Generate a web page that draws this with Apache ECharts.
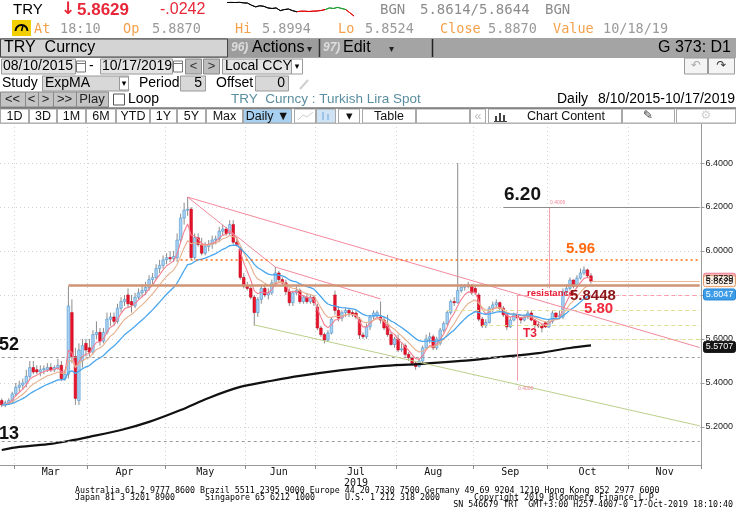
<!DOCTYPE html>
<html><head><meta charset="utf-8">
<script src="https://cdn.jsdelivr.net/npm/echarts@6/dist/echarts.min.js"></script>
<style>html,body{margin:0;padding:0;background:#fff}#c{width:736px;height:530px}</style>
</head><body><div id="c"></div>
<script>
// ---------------- DATA ----------------
const startDate = '2019-02-25';
const endDate = '2019-11-29';
const monthLabels = ['Mar','Apr','May','Jun','Jul','Aug','Sep','Oct','Nov'];
const yTicks = [5.2, 5.4, 5.6, 5.8, 6.0, 6.2, 6.4];

const open = [5.32,5.30,5.31,5.32,5.35,5.38,5.39,5.40,5.43,5.47,5.46,5.45,5.46,5.46,5.47,5.46,5.47,5.48,5.42,5.44,
5.72,5.52,5.32,5.50,5.58,5.56,5.54,5.62,5.63,5.59,5.63,5.69,5.70,5.68,5.74,5.77,5.80,5.77,5.75,5.79,
5.81,5.82,5.835,5.87,5.88,5.92,5.935,5.96,5.97,5.965,5.97,6.05,6.15,6.186,6.19,5.97,6.06,6.03,5.99,6.02,
6.03,6.05,6.055,6.09,6.10,6.08,6.12,6.04,6.01,5.88,5.84,5.83,5.79,5.72,5.78,5.83,5.80,5.81,5.855,5.90,
5.87,5.855,5.815,5.765,5.81,5.82,5.77,5.79,5.77,5.79,5.745,5.65,5.62,5.595,5.627,5.80,5.73,5.695,5.72,5.73,
5.72,5.718,5.69,5.618,5.61,5.655,5.70,5.705,5.70,5.686,5.66,5.62,5.575,5.60,5.55,5.57,5.53,5.515,5.49,5.475,
5.50,5.56,5.60,5.61,5.56,5.58,5.64,5.67,5.72,5.77,5.765,5.82,5.835,5.845,5.845,5.83,5.80,5.69,5.66,5.675,
5.74,5.755,5.765,5.74,5.71,5.655,5.686,5.71,5.696,5.686,5.70,5.718,5.686,5.664,5.66,5.674,5.655,5.68,5.718,5.70,
5.70,5.814,5.83,5.868,5.84,5.877,5.90,5.914,5.887];
const high = [5.33,5.32,5.33,5.36,5.40,5.41,5.42,5.46,5.50,5.50,5.48,5.48,5.48,5.49,5.49,5.48,5.51,5.50,5.46,5.84,
5.78,5.56,5.58,5.60,5.60,5.60,5.64,5.68,5.65,5.65,5.72,5.72,5.72,5.76,5.79,5.80,5.83,5.80,5.81,5.83,
5.85,5.86,5.89,5.90,5.94,5.96,5.98,5.99,6.00,6.00,6.08,6.17,6.22,6.245,6.20,6.08,6.08,6.06,6.04,6.05,
6.07,6.07,6.11,6.12,6.11,6.14,6.14,6.06,6.02,5.90,5.86,5.84,5.80,5.79,5.84,5.85,5.83,5.87,5.927,5.91,
5.88,5.87,5.83,5.82,5.84,5.83,5.80,5.81,5.80,5.80,5.76,5.66,5.63,5.64,5.70,5.82,5.75,5.73,5.74,5.74,
5.73,5.73,5.70,5.63,5.67,5.71,5.73,5.73,5.77,5.70,5.71,5.63,5.61,5.62,5.58,5.58,5.54,5.52,5.50,5.51,
5.57,5.62,5.63,5.62,5.61,5.65,5.68,5.73,5.78,5.79,6.40,5.85,5.85,5.86,5.85,5.84,5.81,5.70,5.69,5.75,
5.77,5.78,5.77,5.75,5.72,5.70,5.72,5.73,5.70,5.71,5.73,5.73,5.69,5.68,5.67,5.68,5.69,5.73,5.72,5.73,
5.83,5.85,5.88,5.87,5.89,5.92,5.93,5.92,5.8994];
const low = [5.29,5.29,5.30,5.31,5.34,5.36,5.37,5.38,5.42,5.44,5.44,5.43,5.44,5.45,5.45,5.45,5.46,5.41,5.41,5.42,
5.49,5.30,5.30,5.47,5.52,5.52,5.53,5.60,5.57,5.58,5.62,5.66,5.66,5.67,5.72,5.75,5.74,5.72,5.74,5.78,
5.79,5.80,5.82,5.85,5.87,5.90,5.92,5.94,5.95,5.95,5.95,6.04,6.12,6.16,5.96,5.96,6.02,5.98,5.98,6.00,
6.01,6.03,6.04,6.07,6.07,6.07,6.03,6.02,5.87,5.83,5.82,5.78,5.66,5.70,5.76,5.79,5.78,5.80,5.84,5.86,
5.84,5.80,5.75,5.75,5.80,5.76,5.76,5.76,5.76,5.75,5.64,5.61,5.58,5.59,5.62,5.71,5.68,5.68,5.70,5.70,
5.70,5.69,5.60,5.60,5.60,5.64,5.69,5.70,5.67,5.64,5.61,5.57,5.56,5.54,5.54,5.52,5.50,5.48,5.46,5.47,
5.49,5.55,5.58,5.55,5.55,5.57,5.63,5.66,5.71,5.75,5.76,5.81,5.82,5.83,5.80,5.80,5.68,5.65,5.65,5.67,
5.72,5.74,5.73,5.70,5.64,5.65,5.68,5.69,5.67,5.68,5.69,5.68,5.65,5.65,5.63,5.65,5.65,5.67,5.69,5.69,
5.69,5.80,5.82,5.83,5.83,5.87,5.89,5.88,5.8524];
const close = [5.30,5.31,5.32,5.35,5.38,5.39,5.40,5.43,5.47,5.45,5.45,5.46,5.465,5.47,5.46,5.47,5.48,5.42,5.44,5.75,
5.52,5.33,5.55,5.57,5.55,5.54,5.62,5.63,5.59,5.63,5.69,5.70,5.68,5.74,5.77,5.78,5.76,5.755,5.79,5.81,
5.82,5.835,5.87,5.88,5.92,5.935,5.96,5.97,5.965,5.975,6.05,6.15,6.186,6.19,5.97,6.06,6.03,5.99,6.02,6.03,
6.05,6.055,6.09,6.10,6.08,6.12,6.04,6.03,5.88,5.84,5.83,5.79,5.72,5.78,5.83,5.80,5.81,5.855,5.90,5.87,
5.855,5.815,5.765,5.81,5.82,5.77,5.79,5.77,5.79,5.765,5.65,5.62,5.595,5.627,5.69,5.73,5.695,5.72,5.73,5.718,
5.71,5.70,5.618,5.61,5.655,5.70,5.718,5.72,5.686,5.65,5.62,5.575,5.60,5.55,5.555,5.53,5.515,5.49,5.475,5.50,
5.56,5.60,5.61,5.56,5.60,5.64,5.67,5.72,5.77,5.765,5.82,5.835,5.845,5.84,5.81,5.81,5.69,5.66,5.675,5.74,
5.755,5.765,5.74,5.71,5.655,5.686,5.71,5.696,5.686,5.70,5.718,5.686,5.664,5.66,5.65,5.655,5.68,5.718,5.70,5.705,
5.814,5.83,5.868,5.84,5.877,5.90,5.914,5.887,5.8629];

// 200-day ExpMA (black) at a few dates
const ema200Dates = ['2019-02-25','2019-03-04','2019-03-15','2019-03-22','2019-04-01','2019-04-12','2019-04-24','2019-05-07','2019-05-17','2019-05-30','2019-06-12','2019-06-24','2019-07-10','2019-07-25','2019-08-09','2019-08-27','2019-09-11','2019-09-26','2019-10-09','2019-10-17'];
const ema200Vals  = [5.095,5.109,5.123,5.136,5.155,5.186,5.223,5.277,5.332,5.382,5.41,5.432,5.458,5.477,5.486,5.50,5.518,5.536,5.559,5.5707];

// header intraday sparkline
const sparkline = [5.8982,5.8989,5.8982,5.8993,5.8971,5.8964,5.8892,5.8838,5.8874,5.8856,5.8802,5.8784,5.8802,5.8712,5.8748,5.8766,5.8712,5.8676,5.8694,5.8694,5.8683,5.8694,5.8701,5.8719,5.8748,5.8802,5.8784,5.8820,5.8784,5.8748,5.8640,5.8532];

// right-axis value badges
const lastClose = 5.8629, lastEma20 = 5.8047, lastEma200 = 5.5707;

// ---------------- BUILD ----------------
function weekdays(a,b){const out=[];const d=new Date(a+'T00:00:00Z');const e=new Date(b+'T00:00:00Z');
  while(d<=e){const w=d.getUTCDay();if(w!==0&&w!==6)out.push(d.toISOString().slice(0,10));d.setUTCDate(d.getUTCDate()+1);}return out;}
const categories = weekdays(startDate,endDate);
const monthOf = s => +s.slice(5,7);
const monthStart = new Set();
const spans = {};
categories.forEach((c,i)=>{const m=monthOf(c);
  if(i>0 && m!==monthOf(categories[i-1])) monthStart.add(i);
  if(!spans[m]) spans[m]=[i,i]; else spans[m][1]=i;});
const labelIdx = new Set();
Object.keys(spans).forEach(m=>{ if(+m>=3){const s=spans[m]; labelIdx.add(Math.floor((s[0]+s[1])/2));}});

function ema(arr,n){const k=2/(n+1);let p=null;return arr.map(v=>{p=p===null?v:p+k*(v-p);return +p.toFixed(4);});}
const ema5 = ema(close,5), ema10 = ema(close,10), ema20 = ema(close,20);
const cat = i => categories[i];

const candleData = close.map((c,i)=>[i, open[i], c, low[i], high[i]]);

const mlPink = {color:'#f48a9c', width:1, type:'solid'};
const markLines = [
  [{coord:[cat(0),5.518]},{coord:[cat(199),5.518]}, {color:'#9a9a9a',width:1,type:[3,3]}],
  [{coord:[cat(0),5.136]},{coord:[cat(199),5.136]}, {color:'#9a9a9a',width:1,type:[3,3]}],
  [{coord:[cat(127),5.732]},{coord:[cat(199),5.732]}, {color:'#dede94',width:1,type:[4,3]}],
  [{coord:[cat(137),5.664]},{coord:[cat(199),5.664]}, {color:'#dede94',width:1,type:[4,3]}],
  [{coord:[cat(138),5.60]},{coord:[cat(199),5.60]}, {color:'#dede94',width:1,type:[4,3]}],
  [{coord:[cat(72),5.664]},{coord:[cat(199),5.205]}, {color:'#bccf8c',width:1,type:'solid'}],
  [{coord:[cat(53),6.245]},{coord:[cat(199),5.561]}, mlPink],
  [{coord:[cat(53),6.245]},{coord:[cat(78),5.927]}, mlPink],
  [{coord:[cat(78),5.927]},{coord:[cat(108),5.782]}, mlPink],
  [{coord:[cat(147),5.80]},{coord:[cat(199),5.80]}, {color:'#ff9aaa',width:1,type:[4,3]}],
  [{coord:[cat(156),6.20]},{coord:[cat(156),5.83]}, {color:'#f4a0ae',width:1,type:'solid'}],
  [{coord:[cat(147),5.80]},{coord:[cat(147),5.41]}, {color:'#f4a0ae',width:1,type:'solid'}],
  [{coord:[cat(143),6.20]},{coord:[cat(199),6.20]}, {color:'#8c8c8c',width:1,type:'solid'}],
  [{coord:[cat(51),5.96]},{coord:[cat(199),5.96]}, {color:'#ff6a10',width:1.6,type:[2,3]}],
  [{coord:[cat(19),5.8448]},{coord:[cat(199),5.8448]}, {color:'#cf9474',width:2.6,type:'solid'}],
  [{coord:[cat(168),lastClose]},{coord:[cat(199),lastClose]}, {color:'#ecb894',width:1,type:'solid'}]
].map(([a,b,ls])=>[Object.assign({lineStyle:ls},a), b]);

// ---------------- GRAPHIC (terminal header / annotations) ----------------
const G = [];
const SANS='"Liberation Sans", Arial, sans-serif', MONO='"DejaVu Sans Mono", monospace';
function T(x,y,text,font,fill,align,z){G.push({type:'text',z:z||100,silent:true,style:{x,y,text,font,fill,textAlign:align||'left',align:align||'left',textVerticalAlign:'middle',verticalAlign:'middle'}});}
function R(x,y,w,h,fill,stroke,lw,z){G.push({type:'rect',z:z||90,silent:true,shape:{x,y,width:w,height:h},style:{fill,stroke:stroke||null,lineWidth:lw||1}});}
function L(x1,y1,x2,y2,stroke,lw,z){G.push({type:'line',z:z||95,silent:true,shape:{x1,y1,x2,y2},style:{stroke,lineWidth:lw||1}});}

// row 1
T(13,10,'TRY','15px '+SANS,'#000');
T(61,10,'\u2193','bold 17px "DejaVu Sans"','#e8283a');
T(77,10,'5.8629','bold 17px '+SANS,'#e8283a');
T(160,10,'-.0242','16px '+SANS,'#e8283a');
T(380,10,'BGN','14px '+MONO,'#8c8c8c');
T(420,10,'5.8614/5.8644','14px '+MONO,'#8c8c8c');
T(545,10,'BGN','14px '+MONO,'#8c8c8c');
// row 2
R(12,20,19,16,'#f2cf00');
G.push({type:'arc',z:96,silent:true,shape:{cx:21.5,cy:31,r:6,startAngle:Math.PI,endAngle:2*Math.PI},style:{stroke:'#000',lineWidth:2,fill:null}});
L(21.5,31,23,25.5,'#000',1.5,97);
const r2=[['At',34,'o'],['18:10',60,'g'],['Op',123,'o'],['5.8870',152,'g'],['Hi',235,'o'],['5.8994',262,'g'],['Lo',338,'o'],['5.8524',365,'g'],['Close',440,'o'],['5.8870',488,'g'],['Value',553,'o'],['10/18/19',603,'g']];
r2.forEach(([t,x,c])=>T(x,29,t,'13.5px '+MONO,c==='o'?'#f5a04a':'#9a9a9a'));
// row 3
R(0,38,736,20,'#a4a4a4');
R(0.5,39,227,18,'#d4d4d4','#444');
T(4,48,'TRY  Curncy','16px '+SANS,'#000');
R(228,39,91,18,'#9c9c9c');
T(231,48,'96)','italic bold 12px '+SANS,'#dcdcdc');
T(252,48,'Actions','16px '+SANS,'#000');
T(307,49,'\u25BE','10px "DejaVu Sans"','#222');
L(319.5,39,319.5,57,'#333',1.5);
T(323,48,'97)','italic bold 12px '+SANS,'#dcdcdc');
T(343,48,'Edit','16px '+SANS,'#000');
T(389,49,'\u25BE','10px "DejaVu Sans"','#222');
L(432.5,39,432.5,57,'#222',1.5);
T(731,48,'G 373: D1','16px '+SANS,'#000','right');
// row 4
R(1.5,59,74,15,'#e4e4e4','#9a9a9a'); T(3,66.5,'08/10/2015','14px '+SANS,'#000');
R(76.5,61,9,11,'#fff','#777'); L(76.5,63.5,85.5,63.5,'#777');
T(89,66,'-','14px '+SANS,'#000');
R(100.5,59,72,15,'#e4e4e4','#9a9a9a'); T(102,66.5,'10/17/2019','14px '+SANS,'#000');
R(173.5,61,9,11,'#fff','#777'); L(173.5,63.5,182.5,63.5,'#777');
R(185.5,59,16,15,'#bdbdbd','#888'); T(193.5,66.5,'<','13px '+SANS,'#333','center');
R(203.5,59,16,15,'#bdbdbd','#888'); T(211.5,66.5,'>','13px '+SANS,'#333','center');
R(222.5,59,69,15,'#e4e4e4','#9a9a9a'); T(225,66.5,'Local CCY','14px '+SANS,'#000');
R(291.5,59,11,15,'#fff','#9a9a9a'); T(297,67,'\u25BE','9px "DejaVu Sans"','#000','center');
R(684.5,58,23,16,'#f4f4f4','#999'); T(696,66,'\u21B6','12px "DejaVu Sans"','#aaa','center');
R(708.5,58,26,16,'#f4f4f4','#999'); T(721.5,66,'\u21B7','12px "DejaVu Sans"','#333','center');
// row 5
T(2,83,'Study','14px '+SANS,'#000');
R(42.5,76,86,15,'#d8d8d8','#9a9a9a'); T(45,83.5,'ExpMA','14px '+SANS,'#000');
R(119.5,77,9,13,'#fff','#999'); T(124,84,'\u25BE','9px "DejaVu Sans"','#000','center');
T(139,83,'Period','14px '+SANS,'#000');
R(180.5,76,25,15,'#d8d8d8','#9a9a9a'); T(202,83.5,'5','14px '+SANS,'#000','right');
T(216,83,'Offset','14px '+SANS,'#000');
R(255.5,76,33,15,'#d8d8d8','#9a9a9a'); T(285,83.5,'0','14px '+SANS,'#000','right');
L(300,89,308,80,'#cfcfcf',2);
// row 6
[[0,25,'<<'],[25,38,'<'],[38,53,'>'],[53,76,'>>'],[76,108,'Play']].forEach(([a,b,t])=>{R(a+0.5,92,b-a,15,'#c4c4c4','#888');T((a+b)/2,99.5,t,'13px '+SANS,'#222','center');});
R(113.5,94,11,11,'#fff','#555');
T(128,99.5,'Loop','14px '+SANS,'#000');
T(231,99.5,'TRY  Curncy : Turkish Lira Spot','13.5px '+SANS,'#5a8ea0');
T(557,99.5,'Daily','14px '+SANS,'#000');
T(598,99.5,'8/10/2015-10/17/2019','14px '+SANS,'#000');
// row 7
L(0,108,736,108,'#333',1);
[[0,29,'1D'],[29,57,'3D'],[57,86,'1M'],[86,116,'6M'],[116,150,'YTD'],[150,177,'1Y'],[177,206,'5Y'],[206,243,'Max'],[243,292,'Daily \u25BC'],[294,316,''],[316,336,''],[338,360,'\u25BE'],[362,416,'Table'],[416,470,''],[470,486,'\u00AB'],[488,622,'Chart Content'],[622,675,''],[676,736,'']].forEach(([a,b,t])=>{
  const fill = t.indexOf('Daily')===0 ? '#a8d0f0' : (a===316 ? '#cfe3f5' : '#fff');
  R(a+0.5,109,b-a-1,14,fill,'#a8a8a8');
  if(t) T(t==='Chart Content'?566:(a+b)/2,116.5,t,'12.5px '+SANS,t==='\u00AB'?'#bbb':'#111','center');
});
// small icons in toolbar
G.push({type:'polyline',z:100,silent:true,shape:{points:[[298,120],[303,115],[307,117],[313,112]]},style:{stroke:'#cfcfcf',lineWidth:1,fill:null}});
R(322,112,2,8,'#9cc4e6'); R(327,114,2,6,'#9cc4e6');
R(495,116,2,5,'#444',null,1,101); R(499,113,2,8,'#444',null,1,101); R(503,115,2,6,'#444',null,1,101); L(494,121.5,507,121.5,'#444',1,101);
T(648,116,'\u270E','12px "DejaVu Sans"','#333','center');
T(706,116,'\u2699','12px "DejaVu Sans"','#cfcfcf','center');
L(0,123.5,736,123.5,'#b4b4b4',1);

// chart annotations
T(504,195,'6.20','bold 19px '+SANS,'#141414');
T(566,249,'5.96','bold 15px '+SANS,'#ff6a10');
T(527,293,'resistance','bold 9.5px '+SANS,'#e8203a');
T(570,295.5,'5.8448','bold 15px '+SANS,'#8b1818');
T(584,309,'5.80','bold 15px '+SANS,'#f02a40');
T(523,334,'T3','bold 12px '+SANS,'#e8203a');
T(550,203,'0.4006','5px '+SANS,'#f08a9a');
T(518,389,'0.4006','5px '+SANS,'#f08a9a');
T(-1,345,'52','bold 18px '+SANS,'#111');
T(-1,434,'13','bold 18px '+SANS,'#111');

// footer
const F='8.3px '+MONO;
T(75,491,'Australia 61 2 9777 8600 Brazil 5511 2395 9000 Europe 44 20 7330 7500 Germany 49 69 9204 1210 Hong Kong 852 2977 6000',F,'#000');
T(75,497.5,'Japan 81 3 3201 8900',F,'#000');
T(205,497.5,'Singapore 65 6212 1000',F,'#000');
T(345,497.5,'U.S. 1 212 318 2000',F,'#000');
T(474,497.5,'Copyright 2019 Bloomberg Finance L.P.',F,'#000');
T(733,504.5,'SN 546679 TRT  GMT+3:00 H257-4007-0 17-Oct-2019 18:10:40',F,'#000','right');

// ---------------- CHART ----------------
const chart = echarts.init(document.getElementById('c'));
const option = {
  animation:false,
  backgroundColor:'#ffffff',
  grid:[{left:0,right:34,top:123,bottom:65},{left:227,top:2,width:127,height:15}],
  xAxis:[{
    type:'category', data:categories, boundaryGap:true,
    axisLine:{show:true,lineStyle:{color:'#9a9a9a'}},
    axisTick:{show:true,length:4,interval:(i)=>monthStart.has(i),lineStyle:{color:'#8a8a8a'}},
    axisLabel:{interval:(i)=>labelIdx.has(i), margin:2, fontFamily:'DejaVu Sans Mono', fontSize:10, lineHeight:11, color:'#111',
      formatter:(v)=>{const m=monthOf(v);return monthLabels[m-3]+(m===7?'\n'+v.slice(0,4):'');}},
    splitLine:{show:true,interval:(i)=>monthStart.has(i),lineStyle:{color:'#d2d2d2',type:[1,3]}}
  },{type:'category',gridIndex:1,show:false,boundaryGap:false,data:sparkline.map((_,i)=>i)}],
  yAxis:[{
    type:'value', position:'right', min:5.027, max:6.582, scale:true,
    axisLine:{show:true,lineStyle:{color:'#9a9a9a'}},
    axisTick:{show:true,length:3,customValues:yTicks,lineStyle:{color:'#9a9a9a'}},
    axisLabel:{customValues:yTicks,formatter:(v)=>v.toFixed(4),fontFamily:'Liberation Sans',fontSize:9,color:'#222',margin:4},
    splitLine:{show:true,lineStyle:{color:'#d2d2d2',type:[1,3]}}
  },{type:'value',gridIndex:1,show:false,min:5.85,max:5.90}],
  visualMap:[{type:'piecewise',show:false,seriesIndex:5,dimension:0,
    pieces:[{lte:17,color:'#000'},{gt:17,lte:24,color:'#e00000'},{gt:24,lte:29,color:'#1a9a2a'},{gt:29,color:'#e00000'}]}],
  series:[
    {type:'custom', name:'TRY', data:candleData, encode:{x:0,y:[1,2,3,4]}, clip:true, z:3,
     renderItem:(params,api)=>{
       const i=api.value(0),o=api.value(1),c=api.value(2),l=api.value(3),h=api.value(4);
       const pH=api.coord([i,h]),pL=api.coord([i,l]),pO=api.coord([i,o]),pC=api.coord([i,c]);
       const w=api.size([1,0])[0]*0.72, up=c>=o;
       const top=Math.min(pO[1],pC[1]), bh=Math.max(1,Math.abs(pO[1]-pC[1]));
       return {type:'group',children:[
         {type:'line',shape:{x1:pH[0],y1:pH[1],x2:pL[0],y2:pL[1]},style:{stroke:'#8c8c8c',lineWidth:1}},
         {type:'rect',shape:{x:pO[0]-w/2,y:top,width:w,height:bh},style:{fill:up?'#a9d3f3':'#e8142c',stroke:up?'#4f95d0':'#c40018',lineWidth:0.6}}
       ]};
     }},
    {type:'line',name:'EMA5',data:ema5,symbol:'none',z:4,lineStyle:{color:'#f47e90',width:1.1}},
    {type:'line',name:'EMA10',data:ema10,symbol:'none',z:4,lineStyle:{color:'#e6b08c',width:1.1}},
    {type:'line',name:'EMA20',data:ema20,symbol:'none',z:4,lineStyle:{color:'#48a6ee',width:1.3},
     markLine:{silent:true,symbol:['none','none'],label:{show:false},animation:false,data:markLines}},
    {type:'line',name:'EMA200',data:ema200Dates.map((d,i)=>[d,ema200Vals[i]]),symbol:'none',smooth:0.3,z:4,lineStyle:{color:'#111',width:2.2}},
    {type:'line',name:'spark',xAxisIndex:1,yAxisIndex:1,data:sparkline,symbol:'none',lineStyle:{width:1}}
  ],
  graphic:G
};
chart.setOption(option);

// right-axis badges positioned through the y scale
const badges = [
  [ema5[ema5.length-1], '#f7b3c0', '#ec7d92', '#000', 0],
  [lastClose, '#fdf1e8', '#e39a66', '#000', 0],
  [lastEma20, '#3d9de9', '#2a86d4', '#fff', 0.5],
  [lastEma200, '#141414', '#141414', '#fff', 1.5]
];
const extra = [];
badges.forEach(([v,fill,stroke,tc,dy])=>{
  const y = chart.convertToPixel({yAxisIndex:0}, v) + dy;
  extra.push({type:'rect',z:110,silent:true,shape:{x:703.5,y:y-5.5,width:32,height:11,r:2},style:{fill,stroke,lineWidth:1}});
  extra.push({type:'text',z:111,silent:true,style:{x:719.5,y:y,text:v.toFixed(4),font:'9px "Liberation Sans"',fill:tc,textAlign:'center',align:'center',textVerticalAlign:'middle',verticalAlign:'middle'}});
});
chart.setOption({graphic:G.concat(extra)});
</script>
</body></html>
